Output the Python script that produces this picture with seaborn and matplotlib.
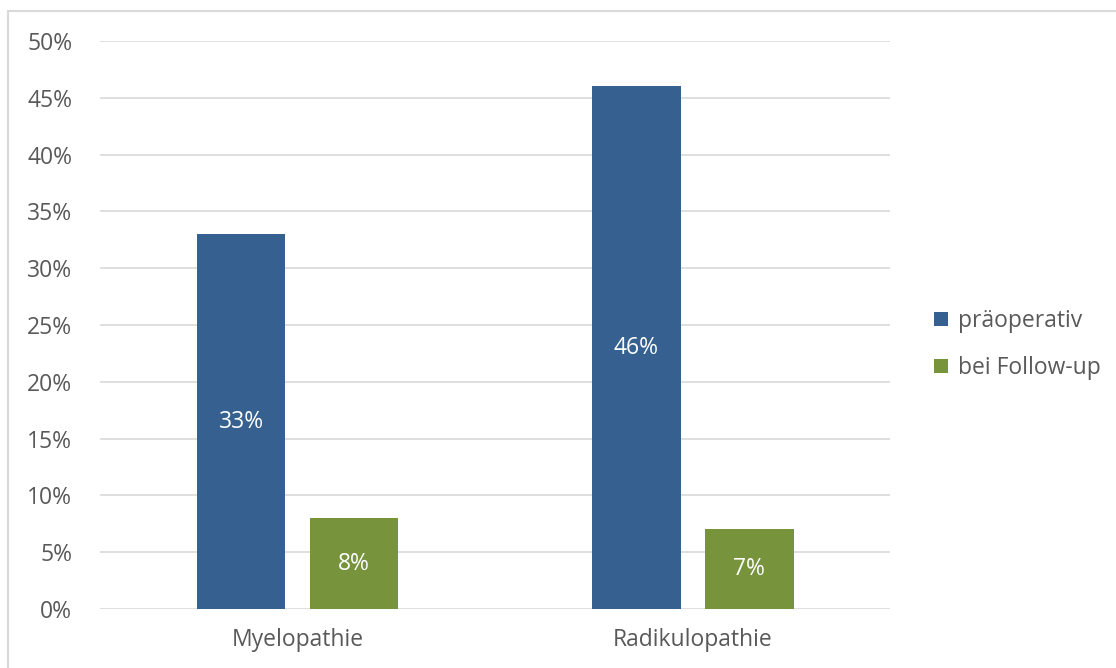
import seaborn as sns
import matplotlib.pyplot as plt
import pandas as pd
from matplotlib.patches import Rectangle
from matplotlib.ticker import PercentFormatter

# data
categories = ['Myelopathie', 'Radikulopathie']
praeoperativ = [33, 46]
follow_up = [8, 7]
series = ['präoperativ', 'bei Follow-up']
colors = ['#35608F', '#77933C']

df = pd.DataFrame({
    'Gruppe': categories * 2,
    'Serie': [series[0]] * 2 + [series[1]] * 2,
    'Wert': praeoperativ + follow_up,
})

sns.set_style('white')
plt.rcParams['font.family'] = ['Open Sans', 'DejaVu Sans']
text_col = '#595959'
fs = 16.5

fig = plt.figure(figsize=(11.16, 6.68), dpi=100)
ax = fig.add_axes([0.0896, 0.0883, 0.708, 0.8503])

sns.barplot(data=df, x='Gruppe', y='Wert', hue='Serie', palette=colors,
            saturation=1, width=0.572, gap=0.213, ax=ax, zorder=3,
            linewidth=0, legend=True)

ax.set_ylim(0, 50)
ax.set_xlim(-0.5, 1.5)
ax.set_yticks(range(0, 51, 5))
ax.yaxis.set_major_formatter(PercentFormatter(decimals=0))
ax.grid(axis='y', color='#D9D9D9', lw=1.2, zorder=0)
ax.set_xlabel('')
ax.set_ylabel('')
for s in ax.spines.values():
    s.set_visible(False)
ax.tick_params(axis='both', length=0, labelsize=fs, colors=text_col)
ax.tick_params(axis='y', pad=20)
ax.tick_params(axis='x', pad=14)

for cont in ax.containers:
    ax.bar_label(cont, labels=[f'{v:.0f}%' for v in cont.datavalues],
                 label_type='center', color='white', fontsize=fs)

handles, labels = ax.get_legend_handles_labels()
ax.legend(handles, labels, loc='center left', bbox_to_anchor=(1.030, 0.465),
          frameon=False, fontsize=fs, labelcolor=text_col,
          handlelength=0.57, handleheight=0.57, handletextpad=0.44,
          labelspacing=1.0)

# outer chart border (only top and left visible)
fig.patches.append(Rectangle((8 / 1116, -0.1), 1.2, 1 - 11 / 668 + 0.1,
                             transform=fig.transFigure, fill=False,
                             edgecolor='#D9D9D9', lw=1.5))

fig.savefig('out.png', dpi=100)
